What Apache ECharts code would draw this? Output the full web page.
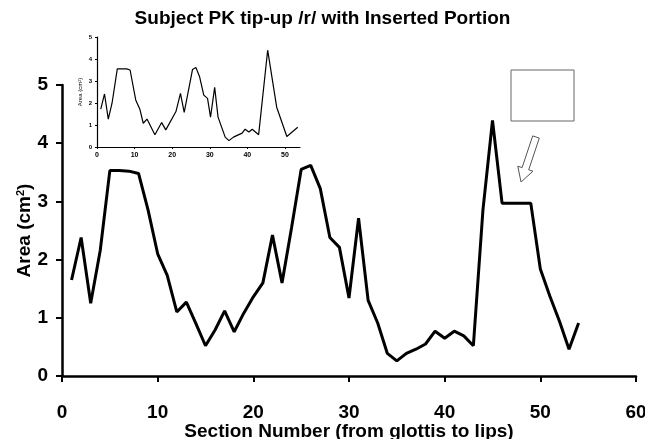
<!DOCTYPE html>
<html>
<head>
<meta charset="utf-8">
<script src="https://cdn.jsdelivr.net/npm/echarts@6/dist/echarts.min.js"></script>
<style>
  html, body { margin: 0; padding: 0; background: #fff; }
  #chart { width: 645px; height: 439px; }
</style>
</head>
<body>
<div id="chart"></div>
<script>
  // main curve: area per section, with the inserted flat portion (46-49)
  var sections = [1, 2, 3, 4, 5, 6, 7, 8, 9, 10, 11, 12, 13, 14, 15, 16, 17, 18, 19, 20,
    21, 22, 23, 24, 25, 26, 27, 28, 29, 30, 31, 32, 33, 34, 35, 36, 37, 38, 39, 40,
    41, 42, 43, 44, 45, 46, 47, 48, 49, 50, 51, 52, 53, 54];
  var area = [1.65, 2.38, 1.25, 2.16, 3.53, 3.53, 3.52, 3.48, 2.85, 2.1, 1.73, 1.1, 1.27, 0.9, 0.52, 0.79, 1.12, 0.76, 1.08, 1.36,
    1.6, 2.42, 1.6, 2.55, 3.55, 3.62, 3.22, 2.38, 2.21, 1.34, 2.71, 1.3, 0.91, 0.39, 0.26, 0.39, 0.46, 0.55, 0.77, 0.65,
    0.77, 0.69, 0.52, 2.85, 4.39, 2.97, 2.97, 2.97, 2.97, 1.84, 1.37, 0.94, 0.46, 0.91];

  // inset: the original curve
  var insetSections = [1, 2, 3, 4, 5.4, 7.9, 8.8, 10.3, 11.4, 12.3, 13.3, 15.4, 17.2, 18.3, 21, 22.2, 23.2, 25.4, 26.3, 27.3,
    28.4, 29.4, 30.2, 31.3, 32.2, 34.1, 35.1, 36.3, 38.6, 39.4, 40.4, 41.3, 43, 45.4, 47.8, 50.5, 53.4];
  var insetArea = [1.72, 2.41, 1.27, 1.99, 3.55, 3.55, 3.5, 2.14, 1.72, 1.08, 1.27, 0.56, 1.11, 0.78, 1.61, 2.44, 1.57, 3.52, 3.61, 3.19,
    2.36, 2.21, 1.36, 2.71, 1.36, 0.45, 0.29, 0.45, 0.63, 0.81, 0.68, 0.81, 0.56, 4.4, 1.81, 0.48, 0.9];

  var xMin = 0, xMax = 60, xStep = 10;
  var yMin = 0, yMax = 5, yStep = 1;

  function pairs(xs, ys) {
    return xs.map(function (x, i) { return [x, ys[i]]; });
  }

  var font = '"Liberation Sans", Arial, sans-serif';

  var chart = echarts.init(document.getElementById('chart'));

  // hollow arrow pointing at the inserted portion
  var arrowPts = [[539.3, 138.1], [528.7, 169.8], [533, 171.2], [521, 182], [517.8, 166.2], [522.1, 167.6], [532.7, 135.9]];

  var option = {
    animation: false,
    title: {
      text: 'Subject PK tip-up /r/ with Inserted Portion',
      left: 'center',
      top: 4,
      textStyle: { fontFamily: font, fontSize: 19, fontWeight: 'bold', color: '#000' }
    },
    grid: [
      { left: 62, right: 9, top: 85, bottom: 63, outerBoundsMode: 'none' },
      { left: 97, right: 345, top: 37, bottom: 292, outerBoundsMode: 'none' }
    ],
    xAxis: [
      {
        gridIndex: 0, type: 'value', min: xMin, max: xMax, interval: xStep,
        name: 'Section Number (from glottis to lips)',
        nameLocation: 'middle', nameGap: 46, nameMoveOverlap: false,
        nameTextStyle: { fontFamily: font, fontSize: 19, fontWeight: 'bold', color: '#000' },
        axisLine: { lineStyle: { color: '#000', width: 2.5 } },
        axisTick: { inside: false, length: 6, lineStyle: { color: '#000', width: 2 } },
        axisLabel: { margin: 27, fontFamily: font, fontSize: 19, fontWeight: 'bold', color: '#000' },
        splitLine: { show: false }
      },
      {
        gridIndex: 1, type: 'value', min: 0, max: 54, interval: 10,
        axisLine: { lineStyle: { color: '#000', width: 1.2 } },
        axisTick: { length: 2, lineStyle: { color: '#000', width: 1 } },
        axisLabel: { margin: 5, showMaxLabel: false, fontFamily: font, fontSize: 7, fontWeight: 'bold', color: '#000' },
        splitLine: { show: false }
      }
    ],
    yAxis: [
      {
        gridIndex: 0, type: 'value', min: yMin, max: yMax, interval: yStep,
        name: 'Area (cm{sup|2})',
        nameLocation: 'middle', nameGap: 28, nameMoveOverlap: false,
        nameTextStyle: {
          fontFamily: font, fontSize: 19, fontWeight: 'bold', color: '#000',
          rich: { sup: { fontFamily: font, fontSize: 11, fontWeight: 'bold', color: '#000', verticalAlign: 'top' } }
        },
        axisLine: { show: true, lineStyle: { color: '#000', width: 2.5 } },
        axisTick: { show: true, length: 6, lineStyle: { color: '#000', width: 2 } },
        axisLabel: { margin: 14, fontFamily: font, fontSize: 19, fontWeight: 'bold', color: '#000' },
        splitLine: { show: false }
      },
      {
        gridIndex: 1, type: 'value', min: 0, max: 5, interval: 1,
        name: 'Area (cm²)',
        nameLocation: 'middle', nameGap: 14, nameMoveOverlap: false,
        nameTextStyle: { fontFamily: font, fontSize: 6, color: '#000' },
        axisLine: { show: true, lineStyle: { color: '#000', width: 1.2 } },
        axisTick: { show: true, length: 2, lineStyle: { color: '#000', width: 1 } },
        axisLabel: { margin: 5, fontFamily: font, fontSize: 6, fontWeight: 'bold', color: '#000' },
        splitLine: { show: false }
      }
    ],
    series: [
      {
        type: 'line', xAxisIndex: 0, yAxisIndex: 0,
        data: pairs(sections, area),
        symbol: 'none',
        lineStyle: { color: '#000', width: 3 }
      },
      {
        type: 'line', xAxisIndex: 1, yAxisIndex: 1,
        data: pairs(insetSections, insetArea),
        symbol: 'none',
        lineStyle: { color: '#000', width: 1.2 }
      }
    ],
    graphic: [
      {
        type: 'rect',
        shape: { x: 511, y: 70, width: 63, height: 51 },
        style: { fill: '#fff', stroke: '#666', lineWidth: 1 }
      },
      {
        type: 'polygon',
        shape: { points: arrowPts },
        style: { fill: '#fff', stroke: '#555', lineWidth: 1 }
      }
    ]
  };

  chart.setOption(option);
  window.addEventListener('resize', function () {
    chart.resize();
  });
</script>
</body>
</html>
